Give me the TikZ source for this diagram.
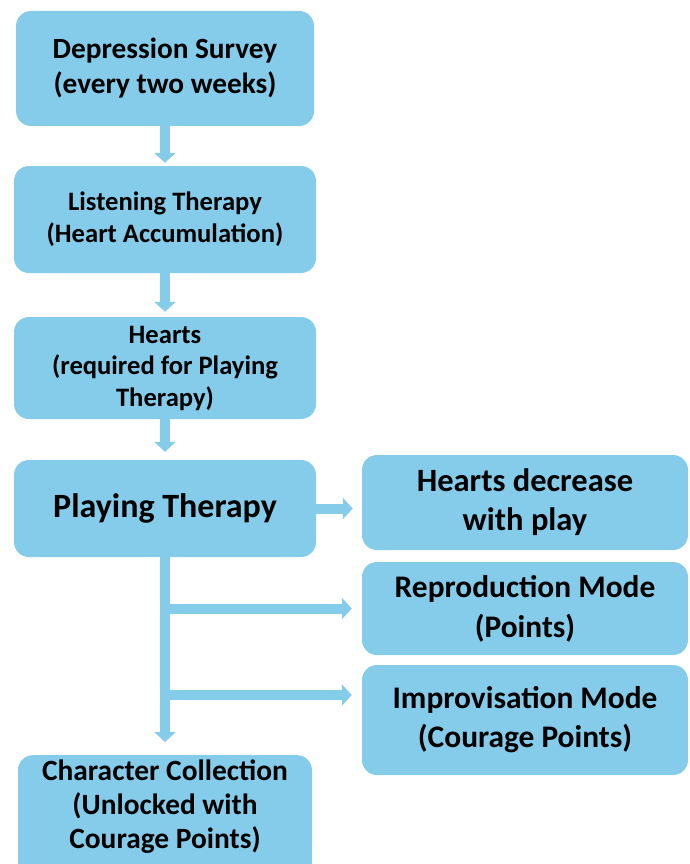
\documentclass[tikz,border=0pt]{standalone}
\usepackage{fontspec}
\setmainfont{Carlito}
\usetikzlibrary{positioning,calc,arrows.meta,backgrounds}
\definecolor{sky}{RGB}{133,204,235}
\newcommand*{\fs}[2]{\fontsize{#1}{#2}\selectfont\bfseries}

\begin{document}
\begin{tikzpicture}[x=1pt,y=-1pt,
  box/.style={fill=sky,rounded corners=15pt,align=center,inner sep=0pt},
  flow/.style={draw=sky,line width=10pt,-{Triangle[width=21pt,length=10pt]}}]
\useasboundingbox (0,0) rectangle (689,864);
% Boxes of the main column
\node[box,font=\fs{29.3}{35},minimum width=298pt,minimum height=115pt] (survey) at (165,68.5)
  {Depression Survey\\(every two weeks)};
\node[box,font=\fs{26.6}{32},minimum width=302pt,minimum height=107pt] (listen) at (165,219.5)
  {Listening Therapy\\(Heart Accumulation)};
\node[box,font=\fs{26.6}{31.5},minimum width=302pt,minimum height=102pt] (hearts) at (165,368)
  {Hearts\\(required for Playing\\Therapy)};
\node[box,font=\fs{34}{40},minimum width=302pt,minimum height=97pt] (play) at (165,508.5)
  {Playing Therapy};
% Boxes on the right
\node[box,font=\fs{32.5}{39},minimum width=326pt,minimum height=95pt] (decrease) at (525,502.5)
  {Hearts decrease\\with play};
\node[box,font=\fs{31.4}{40},minimum width=326pt,minimum height=93pt] (repro) at (525,608.5)
  {Reproduction Mode\\(Points)};
\node[box,font=\fs{31.4}{39},minimum width=326pt,minimum height=110pt] (improv) at (525,720)
  {Improvisation Mode\\(Courage Points)};
% Last box runs off the bottom edge
\node[box,font=\fs{29.4}{34},anchor=north,inner ysep=5pt,minimum width=294pt] (coll) at (165,755)
  {Character Collection\\(Unlocked with\\Courage Points)};
\begin{scope}[on background layer]
\fill[sky] ([yshift=20pt]coll.south west) rectangle ([yshift=-30pt]coll.south east);
\end{scope}
% Arrows down the column
\draw[flow,shorten >=3pt] (survey) -- (listen);
\draw[flow,shorten >=5pt] (listen) -- (hearts);
\draw[flow,shorten >=8pt] (hearts) -- (play);
\draw[flow,shorten >=9pt] (play.east) -- (play.east -| decrease.west);
% Trunk and its branches
\coordinate (fork1) at (play.south |- repro.west);
\coordinate (fork2) at ([yshift=25pt]play.south |- improv.west);
\draw[flow,shorten >=13pt] (play.south) -- (coll.north);
\draw[flow,shorten >=10pt] (fork1) -- (repro.west);
\draw[flow,shorten >=10pt] (fork2) -- (fork2 -| improv.west);
\end{tikzpicture}
\end{document}
